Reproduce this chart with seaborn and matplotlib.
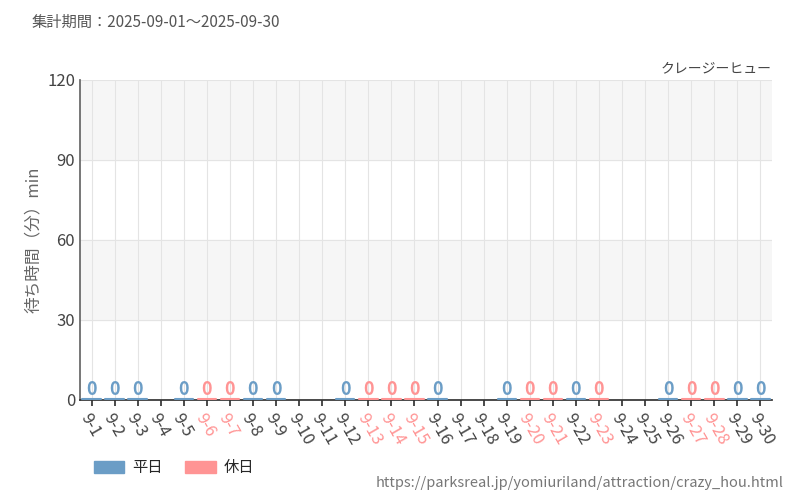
import matplotlib
matplotlib.use("Agg")
import matplotlib.pyplot as plt
import seaborn as sns
import pandas as pd

days = [f"9-{d}" for d in range(1, 31)]
kind = ["平日","平日","平日","平日","平日","休日","休日","平日","平日","平日",
        "平日","平日","休日","休日","休日","平日","平日","平日","平日","休日",
        "休日","平日","休日","平日","平日","平日","休日","休日","平日","平日"]
has_data = [1,1,1,0,1,1,1,1,1,0,0,1,1,1,1,1,0,0,1,1,1,1,1,0,0,1,1,1,1,1]
wait = [0]*30

sns.set_theme(style="white")
plt.rcParams['font.family'] = ['Noto Sans CJK JP', 'DejaVu Sans']
BLUE, PINK = "#6b9dc6", "#ff9494"

df = pd.DataFrame({"day": days, "kind": kind, "wait": wait, "has": has_data})
fig, ax = plt.subplots(figsize=(8, 5), dpi=100)
fig.subplots_adjust(left=0.1, right=0.965, top=0.84, bottom=0.2)
for y0 in (30, 90):
    ax.axhspan(y0, y0 + 30, color="#f6f6f6", zorder=0)
sns.barplot(data=df, x="day", y="wait", hue="kind", palette={"平日": BLUE, "休日": PINK},
            dodge=False, ax=ax, legend=False, width=0.8, order=days)
for i, row in df.iterrows():
    if row.has:
        c = BLUE if row.kind == "平日" else PINK
        ax.plot([i - 0.4, i + 0.4], [0.3, 0.3], color=c, lw=1.5, zorder=3)
        ax.text(i, 0.5, "0", color=c, ha="center", va="bottom", fontsize=13,
                fontweight="bold", zorder=4)
ax.set_ylim(0, 120)
ax.set_xlim(-0.5, 29.5)
ax.set_yticks([0, 30, 60, 90, 120])
ax.tick_params(axis="y", labelsize=12, labelcolor="#444444", length=0)
ax.grid(axis="both", color="#e4e4e4", lw=0.8)
ax.set_axisbelow(True)
ax.set_xlabel("")
ax.set_ylabel("待ち時間（分）min", color="#666666", fontsize=12)
ax.set_xticks(range(30))
ax.set_xticklabels(days, rotation=-60, ha="left", rotation_mode="anchor", fontsize=12)
ax.tick_params(axis="x", length=4, color="#333333", bottom=True)
for lab, k in zip(ax.get_xticklabels(), kind):
    lab.set_color(PINK if k == "休日" else "#444444")
for s in ["top", "right"]:
    ax.spines[s].set_visible(False)
ax.spines["left"].set_color("#666666")
ax.spines["bottom"].set_color("#333333")
ax.text(1.0, 1.015, "クレージーヒュー", transform=ax.transAxes, ha="right", va="bottom",
        fontsize=10, color="#444444")
fig.text(0.04, 0.955, "集計期間：2025-09-01～2025-09-30", fontsize=11, color="#555555", va="center")
from matplotlib.patches import Patch
fig.legend(handles=[Patch(color=BLUE, label="平日"), Patch(color=PINK, label="休日")],
           loc="lower left", bbox_to_anchor=(0.1, 0.02), ncol=2, frameon=False, fontsize=11,
           handlelength=2.0, handleheight=0.9, handletextpad=0.5, columnspacing=1.5)
fig.text(0.98, 0.025, "https://parksreal.jp/yomiuriland/attraction/crazy_hou.html",
         ha="right", fontsize=10.5, color="#777777")
fig.savefig("out.png", dpi=100)
